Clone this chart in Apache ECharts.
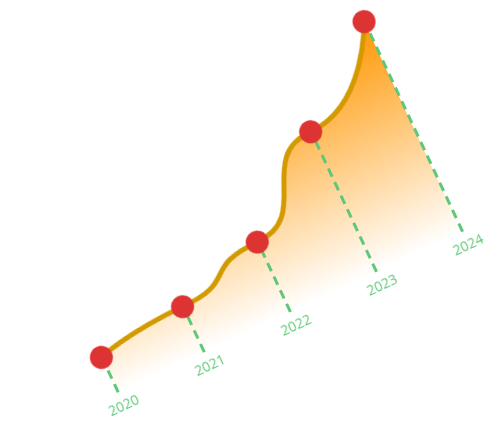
<!DOCTYPE html>
<html>
<head>
<meta charset="utf-8">
<script src="https://cdn.jsdelivr.net/npm/echarts@6/dist/echarts.min.js"></script>
<style>
html,body{margin:0;padding:0;width:497px;height:423px;overflow:hidden;background:#fff;}
#chart{position:absolute;left:-25.45px;top:180.5px;width:460px;height:300px;transform:rotate(-25deg);transform-origin:0 0;}
</style>
</head>
<body>
<div id="chart"></div>
<script>
var years = ['2020', '2021', '2022', '2023', '2024'];
var values = [10, 13, 20, 40, 60];

var lineColor = '#D29A00';
var dotColor = '#DD3333';
var green = '#5EC77A';

var chart = echarts.init(document.getElementById('chart'), null, {renderer: 'canvas'});
var dropLines = years.map(function (y, i) {
  return [{coord: [i, 0]}, {coord: [i, values[i]]}];
});
chart.setOption({
  animation: false,
  grid: {left: 40, top: 20, width: 380, height: 232},
  xAxis: {
    type: 'category',
    data: years,
    boundaryGap: false,
    axisLine: {show: false},
    axisTick: {show: false},
    splitLine: {show: false},
    axisLabel: {color: green, fontSize: 14, fontFamily: 'Open Sans', margin: 8}
  },
  yAxis: {
    type: 'value',
    min: 0,
    max: 60,
    show: false
  },
  series: [
    {
      type: 'line',
      data: values,
      smooth: 0.65,
      smoothMonotone: 'x',
      showSymbol: false,
      z: 2,
      lineStyle: {color: lineColor, width: 5},
      areaStyle: {
        opacity: 1,
        color: new echarts.graphic.LinearGradient(0, 0, 0, 1, [
          {offset: 0, color: 'rgba(255,150,0,1)'},
          {offset: 1, color: 'rgba(255,255,255,1)'}
        ])
      },
      markLine: {
        silent: true,
        symbol: 'none',
        label: {show: false},
        lineStyle: {color: green, width: 3, type: [9, 6]},
        data: dropLines
      }
    },
    {
      type: 'scatter',
      data: values,
      symbolSize: 23,
      z: 10,
      itemStyle: {color: dotColor, opacity: 1}
    }
  ]
});
</script>
</body>
</html>
